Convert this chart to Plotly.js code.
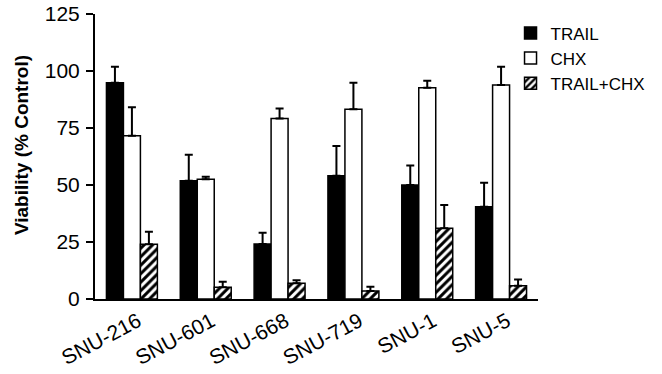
<!DOCTYPE html>
<html>
<head>
<meta charset="utf-8">
<script src="https://cdn.plot.ly/plotly-3.0.1.min.js"></script>
<style>html,body{margin:0;padding:0;background:#fff;}#chart{width:662px;height:374px;}</style>
</head>
<body>
<div id="chart"></div>
<script>
const categories = ["SNU-216", "SNU-601", "SNU-668", "SNU-719", "SNU-1", "SNU-5"];
const trail = [94.9, 51.9, 24.1, 54.1, 50.0, 40.5];
const trailErr = [7.0, 11.4, 5.0, 13.0, 8.5, 10.5];
const chx = [71.6, 52.5, 79.2, 83.2, 92.7, 93.9];
const chxErr = [12.5, 1.1, 4.4, 11.7, 3.0, 8.0];
const combo = [24.0, 5.1, 6.9, 3.5, 31.0, 5.8];
const comboErr = [5.5, 2.5, 1.3, 1.9, 10.2, 2.8];
const yTicks = [0, 25, 50, 75, 100, 125];
const yTitle = 'Viability (% Control)';

function err(arr) {
  return {type: 'data', symmetric: false, array: arr, arrayminus: arr.map(() => 0),
          color: '#000', thickness: 2, width: 4};
}

const traces = [
  {type: 'bar', name: 'TRAIL', x: categories, y: trail, error_y: err(trailErr),
   marker: {color: '#000', line: {color: '#000', width: 1.5}}},
  {type: 'bar', name: 'CHX', x: categories, y: chx, error_y: err(chxErr),
   marker: {color: '#fff', line: {color: '#000', width: 1.5}}},
  {type: 'bar', name: 'TRAIL+CHX', x: categories, y: combo, error_y: err(comboErr),
   marker: {color: '#fff', line: {color: '#000', width: 1.5},
            pattern: {shape: '/', fgcolor: '#000', bgcolor: '#fff', size: 6, solidity: 0.5}}}
];

const layout = {
  width: 662, height: 374,
  margin: {l: 95, r: 112, t: 14, b: 75},
  paper_bgcolor: '#fff', plot_bgcolor: '#fff',
  font: {family: '"Liberation Sans", Arial, sans-serif', color: '#000', size: 20},
  barmode: 'group', bargap: 0.31, bargroupgap: 0,
  showlegend: true,
  legend: {x: 0.938, xanchor: 'left', y: 0.995, yanchor: 'top', font: {size: 17},
           bgcolor: 'rgba(0,0,0,0)', tracegroupgap: 0},
  xaxis: {
    type: 'category', range: [-0.5, 5.5], showline: true, linecolor: '#000', linewidth: 2,
    ticks: '', tickangle: -28, showgrid: false, zeroline: false,
    tickfont: {size: 21}, ticklabelshift: 6, ticklabelstandoff: 0, fixedrange: true
  },
  yaxis: {
    range: [0, 125], tickvals: yTicks, ticktext: yTicks.map(String),
    showline: true, linecolor: '#000', linewidth: 2, ticks: 'outside', ticklen: 7,
    tickwidth: 2, tickcolor: '#000', showgrid: false, zeroline: false,
    tickfont: {size: 21}, ticklabelstandoff: 2
  },
  annotations: [{
    text: '<b>' + yTitle + '</b>', xref: 'paper', yref: 'paper', x: -0.167, y: 0.54,
    xanchor: 'center', yanchor: 'middle', textangle: -90, showarrow: false,
    font: {size: 19}
  }]
};

Plotly.newPlot('chart', traces, layout, {displayModeBar: false, staticPlot: true});
</script>
</body>
</html>
